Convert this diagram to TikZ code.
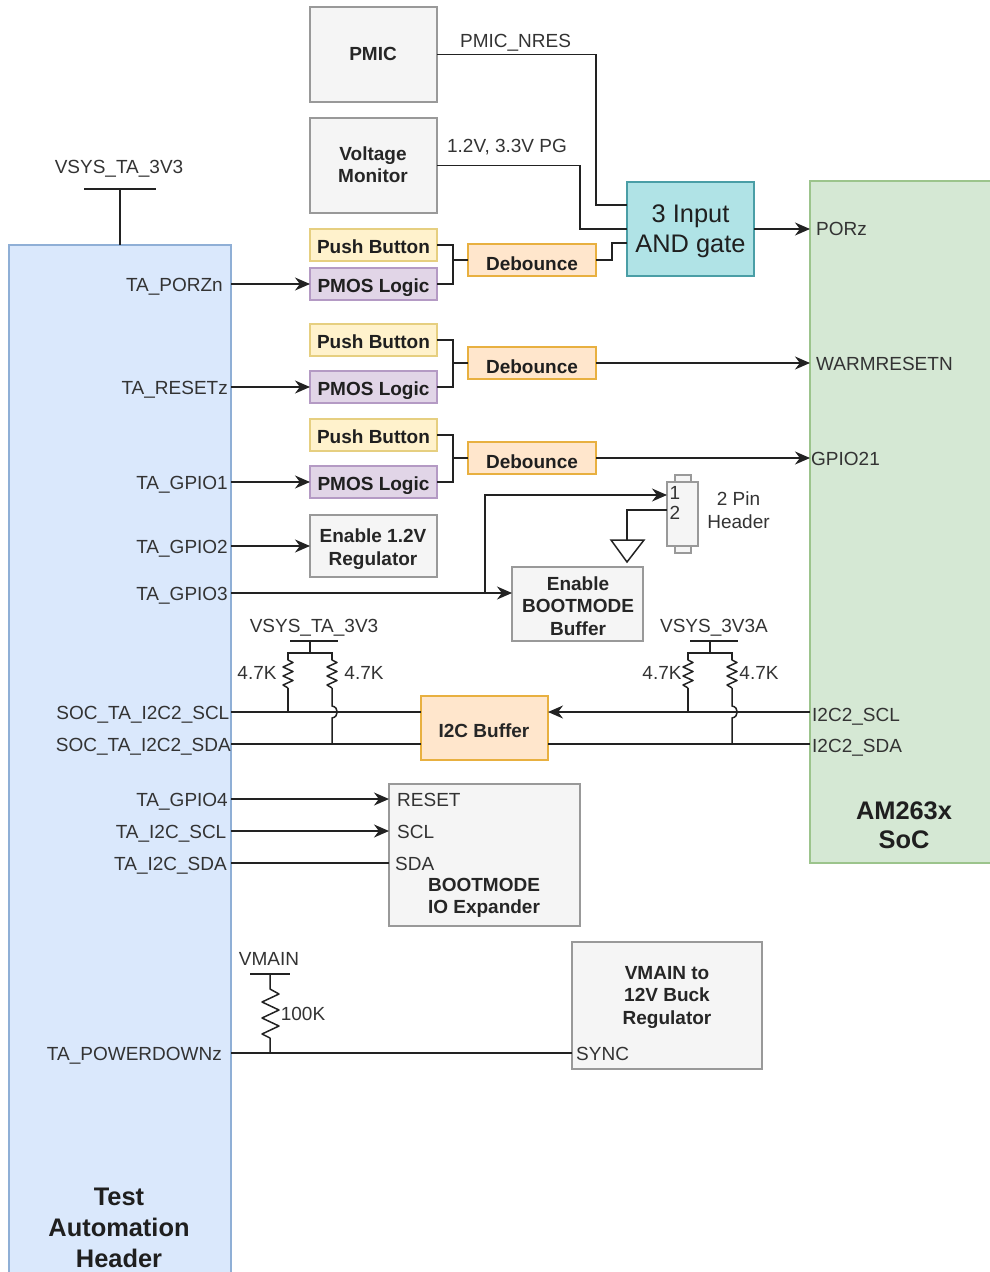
\documentclass[tikz,border=0pt]{standalone}
\usepackage{fontspec}
\setmainfont{Liberation Sans}
\usetikzlibrary{arrows.meta}
\definecolor{inkgray}{HTML}{333333}
\definecolor{wiregray}{HTML}{222222}
\definecolor{taFill}{HTML}{DAE8FC}
\definecolor{taEdge}{HTML}{8FAFD6}
\definecolor{socFill}{HTML}{D5E8D4}
\definecolor{socEdge}{HTML}{9CC48C}
\definecolor{grayFill}{HTML}{F5F5F5}
\definecolor{grayEdge}{HTML}{999999}
\definecolor{pushFill}{HTML}{FFF2CC}
\definecolor{pushEdge}{HTML}{E6CF80}
\definecolor{pmosFill}{HTML}{E1D5E7}
\definecolor{pmosEdge}{HTML}{B49AC4}
\definecolor{debFill}{HTML}{FFE6CC}
\definecolor{debEdge}{HTML}{E8B040}
\definecolor{gateFill}{HTML}{B0E3E6}
\definecolor{gateEdge}{HTML}{4A9EA6}
\tikzset{
  block/.style={draw, line width=1.5pt, outer sep=0pt, inner sep=0pt, align=center, font=\fontsize{19}{22.5}\selectfont\bfseries, text=black!88},
  gray box/.style={block, draw=grayEdge, fill=grayFill},
  blocktext/.style={inner sep=0pt, align=center, font=\fontsize{19}{22.5}\selectfont\bfseries, text=black!85},
  pushb/.style={block, draw=pushEdge, fill=pushFill, minimum width=127pt, minimum height=32pt, text height=17pt, text depth=0pt},
  pmos/.style={block, draw=pmosEdge, fill=pmosFill, minimum width=127pt, minimum height=32pt, text height=17pt, text depth=0pt},
  debounce/.style={block, draw=debEdge, fill=debFill, minimum width=128pt, minimum height=32pt, text height=20.5pt, text depth=0pt},
  paneltext/.style={inner sep=0pt, align=center, text=black!88},
  lab/.style={inner sep=0pt, text=inkgray, font=\fontsize{19}{23}\selectfont, text height=15pt, text depth=1.5pt},
  pinr/.style={lab, anchor=east},
  pinl/.style={lab, anchor=west},
  wire/.style={line width=1.5pt, draw=wiregray},
  flow/.style={wire, -{Stealth[length=15pt, width=13pt]}},
  pics/vres/.style={code={
    \draw[wire, line join=round] (0,0) -- (0,7) -- (5,9.5) -- (-5,14) -- (5,18.5) -- (-5,23) -- (5,27.5) -- (-5,32) -- (0,35);
  }},
}
\begin{document}
\begin{tikzpicture}[x=1pt, y=-1pt]
  \useasboundingbox (0,0) rectangle (989,1272);
  \node[block, draw=taEdge, fill=taFill, minimum width=222pt, minimum height=1040pt, anchor=north west] (ta) at (9,245) {};
  \node[block, draw=socEdge, fill=socFill, minimum width=190pt, minimum height=682pt, anchor=north west] (soc) at (810,181) {};
  \node[paneltext, font=\fontsize{25.4}{31}\selectfont\bfseries] (talab) at (119,1228) {Test\\Automation\\Header};
  \node[paneltext, font=\fontsize{25.4}{28.5}\selectfont\bfseries] (soclab) at (904,825) {AM263x\\SoC};

  \node[gray box, minimum width=127pt, minimum height=95pt] (pmic) at (373.5,54.5) {};
  \node[blocktext] (pmiclab) at (373,53.5) {PMIC};
  \node[gray box, minimum width=127pt, minimum height=95pt] (vmon) at (373.5,165.5) {};
  \node[blocktext] (vmonlab) at (373,164.5) {Voltage\\Monitor};
  \node[block, draw=gateEdge, fill=gateFill, minimum width=127pt, minimum height=94pt] (gate) at (690.5,229) {};
  \node[paneltext, font=\fontsize{25.4}{30}\selectfont] (gatelab) at (690.5,231) {3 Input\\AND gate};

  \foreach \i/\a/\b/\c in {1/245/284/260, 2/340/387/363, 3/435/482/458} {
    \node[pushb] (pb\i) at (373.5,\a) {Push Button};
    \node[pmos] (pm\i) at (373.5,\b) {PMOS Logic};
    \node[debounce] (db\i) at (532,\c) {Debounce};
    \draw[wire] (pb\i.east) -- ++(16,0) |- (pm\i.east);
    \draw[wire] (db\i.west) -- ++(-15,0);
  }

  \node[gray box, minimum width=127pt, minimum height=62pt] (en12) at (373.5,546) {};
  \node[blocktext] (en12lab) at (373,549) {Enable 1.2V\\Regulator};
  \node[gray box, minimum width=131pt, minimum height=74pt] (enboot) at (577.5,604) {};
  \node[blocktext] (enbootlab) at (578,606) {Enable\\BOOTMODE\\Buffer};
  \node[block, draw=debEdge, fill=debFill, minimum width=127pt, minimum height=64pt] (i2cbuf) at (484.5,728) {};
  \node[blocktext] (i2clab) at (484,731) {I2C Buffer};
  \node[gray box, minimum width=191pt, minimum height=142pt] (ioexp) at (484.5,855) {};
  \node[blocktext] (iolab) at (484,898) {BOOTMODE\\IO Expander};
  \node[gray box, minimum width=190pt, minimum height=127pt] (buck) at (667,1005.5) {};
  \node[blocktext] (bucklab) at (667,997) {VMAIN to\\12V Buck\\Regulator};
  \node[gray box, minimum width=31pt, minimum height=64pt] (hdr) at (682.5,514) {};
  \node[gray box, minimum width=16pt, minimum height=7pt, anchor=south] (hdrt) at (683,482) {};
  \node[gray box, minimum width=16pt, minimum height=7pt, anchor=north] (hdrb) at (683,546) {};

  \draw[wire] (pmic.east) -| (596,205) -- (gate.west |- 0,205);
  \draw[wire] (vmon.east) -| (580,229) -- (gate.west);
  \draw[wire] (db1.east) -- (612,260) |- (gate.west |- 0,243);
  \draw[flow] (gate.east) -- (soc.west |- gate.east);
  \foreach \i in {2,3} {\draw[flow] (db\i.east) -- (soc.west |- db\i.east);}
  \foreach \i in {1,2,3} {\draw[flow] (ta.east |- pm\i.west) -- (pm\i.west);}
  \draw[flow] (ta.east |- en12.west) -- (en12.west);
  \draw[flow] (ta.east |- 0,593) -- (enboot.west |- 0,593);
  \draw[flow] (ta.east |- 0,593) -| (485,495) -- (hdr.west |- 0,495);
  \draw[wire] (hdr.west |- 0,510) -| (627,540);
  \draw[wire] (611,540) -- (644,540) -- (627,562) -- cycle;

  \draw[wire] (ta.east |- 0,712) -- (i2cbuf.west |- 0,712);
  \draw[wire] (ta.east |- 0,744) -- (i2cbuf.west |- 0,744);
  \draw[flow] (soc.west |- 0,712) -- (i2cbuf.east |- 0,712);
  \draw[wire] (i2cbuf.east |- 0,744) -- (soc.west |- 0,744);

  \foreach \x/\w in {310/24, 710/24} {
    \draw[wire] (\x-\w+4,641) -- (\x+\w+4,641);
    \draw[wire] (\x,641) -- (\x,653);
    \draw[wire] (\x-22,660) |- (\x+22,653) -- (\x+22,660);
    \pic at (\x-22,653) {vres};
    \pic at (\x+22,653) {vres};
    \draw[wire] (\x-22,688) -- (\x-22,712);
    \draw[wire] (\x+22,688) -- (\x+22,706) .. controls (\x+29,707) and (\x+29,717) .. (\x+22,718) -- (\x+22,744);
  }

  \draw[wire] (84,189) -- (156,189);
  \draw[wire] (120,189) -- (ta.north -| 120,0);
  \draw[wire] (250,974) -- (290,974);
  \draw[wire, line join=round] (270,974) -- (270,989) -- (279,994) -- (262,1002) -- (279,1010) -- (262,1018) -- (279,1026) -- (262,1034) -- (270,1038) -- (270,1053);

  \draw[flow] (ta.east |- 0,799) -- (ioexp.west |- 0,799);
  \draw[flow] (ta.east |- 0,831) -- (ioexp.west |- 0,831);
  \draw[wire] (ta.east |- 0,863) -- (ioexp.west |- 0,863);
  \draw[wire] (ta.east |- 0,1053) -- (buck.west |- 0,1053);

  \foreach \n/\x/\y/\t in {a/223/285/TA\_PORZn, b/228/388/TA\_RESETz, c/228/483/TA\_GPIO1, d/228/547/TA\_GPIO2, e/228/594/TA\_GPIO3, f/228/800/TA\_GPIO4, g/226.5/832/TA\_I2C\_SCL, h/227/864/TA\_I2C\_SDA} {
    \node[pinr] (l\n) at (\x,\y) {\t};
  }
  \node[pinr] (lscl) at (229.5,713) {SOC\_TA\_I2C2\_SCL};
  \node[pinr] (lsda) at (231,745) {SOC\_TA\_I2C2\_SDA};
  \node[pinr] (lpd) at (222,1054) {TA\_POWERDOWNz};

  \node[pinl] (rporz) at (816,229) {PORz};
  \node[pinl] (rwarm) at (816,364) {WARMRESETN};
  \node[pinl] (rgpio) at (811,459) {GPIO21};
  \node[pinl] (rscl) at (812,715) {I2C2\_SCL};
  \node[pinl] (rsda) at (812,746) {I2C2\_SDA};
  \node[pinl] (ireset) at (397,800) {RESET};
  \node[pinl] (iscl) at (397,832) {SCL};
  \node[pinl] (isda) at (395,864) {SDA};
  \node[pinl] (bsync) at (576,1054) {SYNC};

  \node[lab] (nres) at (515.5,41) {PMIC\_NRES};
  \node[lab] (pgood) at (507,146) {1.2V, 3.3V PG};
  \node[lab] (vsys) at (119,167) {VSYS\_TA\_3V3};
  \node[lab] (vsysa) at (314,626) {VSYS\_TA\_3V3};
  \node[lab] (vsysb) at (714,626) {VSYS\_3V3A};
  \node[lab] (vmain) at (269,959) {VMAIN};
  \node[lab] (rla) at (257,673) {4.7K};
  \node[lab] (rlb) at (364,673) {4.7K};
  \node[lab] (rlc) at (662,673) {4.7K};
  \node[lab] (rld) at (759,673) {4.7K};
  \node[lab] (rle) at (303,1014) {100K};
  \node[lab] (pinone) at (675,493) {1};
  \node[lab] (pintwo) at (675,513) {2};
  \node[lab, align=center, text height=, text depth=] (hdrlab) at (738.5,510.5) {2 Pin\\Header};
\end{tikzpicture}
\end{document}
